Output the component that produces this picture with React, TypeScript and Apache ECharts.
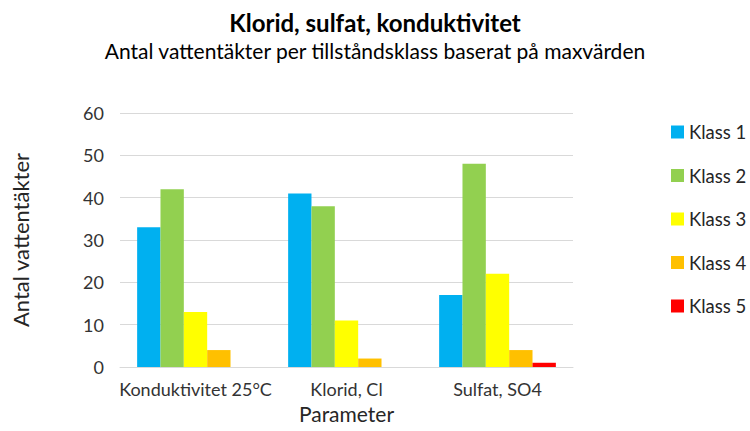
import React, { useEffect, useRef } from "react";
import * as echarts from "echarts";

const categories = ["Konduktivitet 25°C", "Klorid, Cl", "Sulfat, SO4"];
const seriesNames = ["Klass 1", "Klass 2", "Klass 3", "Klass 4", "Klass 5"];
const klass1 = [33, 41, 17];
const klass2 = [42, 38, 48];
const klass3 = [13, 11, 22];
const klass4 = [4, 2, 4];
const klass5 = [0, 0, 1];
const colors = ["#00B0F0", "#92D050", "#FFFF00", "#FFC000", "#FF0000"];
const yTicks = [0, 10, 20, 30, 40, 50, 60];

const FONT = "Lato, 'Open Sans', sans-serif";

export default function App() {
  const ref = useRef<HTMLDivElement>(null);
  useEffect(() => {
    if (!ref.current) return;
    const chart = echarts.init(ref.current, undefined, { renderer: "svg" });
    const data = [klass1, klass2, klass3, klass4, klass5];
    chart.setOption({
      animation: false,
      backgroundColor: "#ffffff",
      textStyle: { fontFamily: FONT },
      title: [
        {
          text: "Klorid, sulfat, konduktivitet",
          left: "center",
          top: 5,
          textStyle: { fontFamily: FONT, fontSize: 24, fontWeight: "bold", color: "#000" },
        },
        {
          text: "Antal vattentäkter per tillståndsklass baserat på maxvärden",
          left: "center",
          top: 35,
          textStyle: { fontFamily: FONT, fontSize: 21, fontWeight: "normal", color: "#000" },
        },
      ],
      legend: {
        orient: "vertical",
        left: 666,
        top: 115,
        itemWidth: 13,
        itemHeight: 13,
        itemGap: 19.5,
        icon: "rect",
        data: seriesNames,
        textStyle: { fontFamily: FONT, fontSize: 18.5, color: "#262626", lineHeight: 24 },
      },
      grid: { left: 120, right: 177, top: 113, bottom: 64, containLabel: false },
      xAxis: {
        type: "category",
        data: categories,
        name: "Parameter",
        nameLocation: "middle",
        nameGap: 36,
        nameTextStyle: { fontFamily: FONT, fontSize: 21, color: "#262626" },
        axisLine: { lineStyle: { color: "#d9d9d9" } },
        axisTick: { show: false },
        axisLabel: { interval: 0, fontFamily: FONT, fontSize: 18, color: "#333333", margin: 13 },
      },
      yAxis: {
        type: "value",
        min: yTicks[0],
        max: yTicks[yTicks.length - 1],
        interval: 10,
        name: "Antal vattentäkter",
        nameLocation: "middle",
        nameGap: 89,
        nameTextStyle: { fontFamily: FONT, fontSize: 22, color: "#262626" },
        axisLine: { show: false },
        axisTick: { show: false },
        axisLabel: { fontFamily: FONT, fontSize: 18, color: "#333333", margin: 16 },
        splitLine: { lineStyle: { color: "#d9d9d9" } },
      },
      series: seriesNames.map((name, i) => ({
        name,
        type: "bar",
        data: data[i],
        barGap: "0%",
        barCategoryGap: "22.7%",
        itemStyle: { color: colors[i] },
      })),
    });
    return () => chart.dispose();
  }, []);
  return <div ref={ref} style={{ width: 750, height: 431, position: "absolute", left: 0, top: 0 }} />;
}
